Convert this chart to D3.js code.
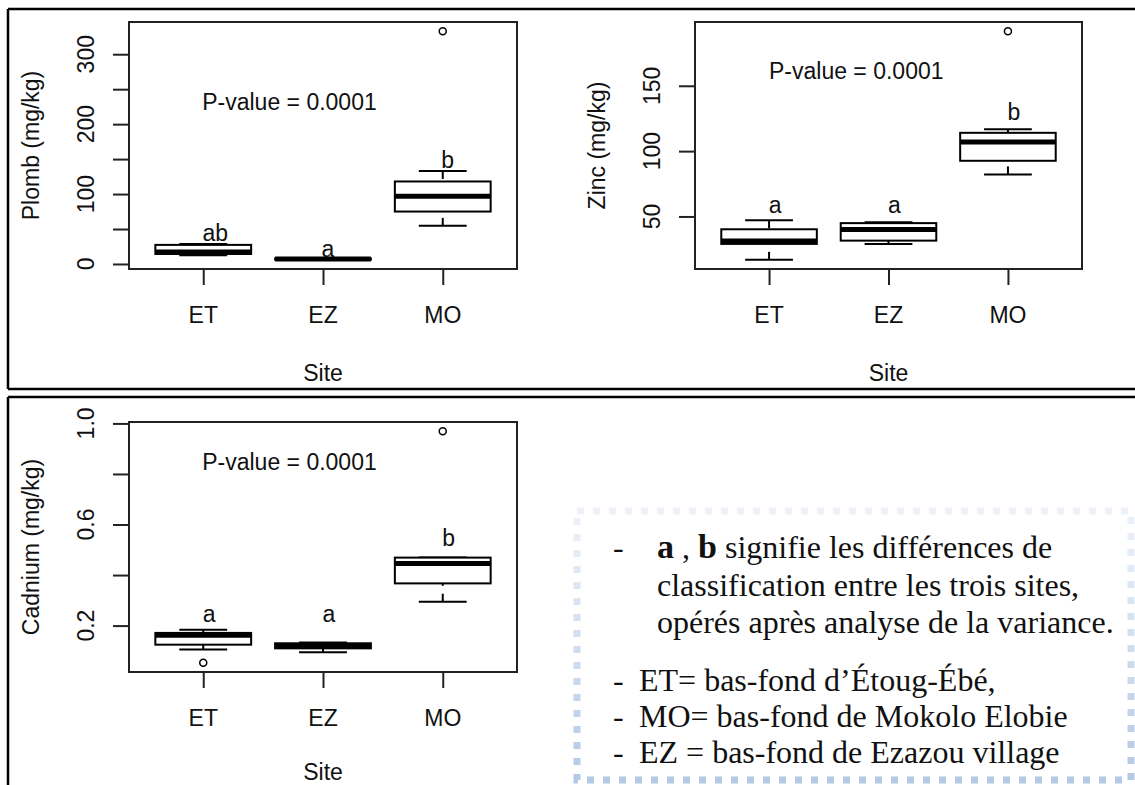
<!DOCTYPE html>
<html>
<head>
<meta charset="utf-8">
<script src="https://cdn.jsdelivr.net/npm/d3@7"></script>
<style>
  body { margin: 0; background: #fff; }
  svg { display: block; }
</style>
</head>
<body>
<svg id="chart" width="1135" height="785"></svg>
<script>
// sites on the x axis
var sites = ["ET", "EZ", "MO"];

// box stats per site: [lower whisker, q1, median, q3, upper whisker]
var plombStats = [[12.5, 14.3, 17.2, 27.3, 28.7], [5.9, 6.3, 7, 7.8, 8.5], [54.5, 75, 97, 118, 133]];
var plombOutliers = [[], [], [333]];
var plombLetters = ["ab", "a", "b"];
var plombLetterX = [1.1, 2.04, 3.04];
var plombLetterY = [45, 21, 149];
var plombTicks = [0, 50, 100, 150, 200, 250, 300];
var plombTickLabels = ["0", "", "100", "", "200", "", "300"];

var zincStats = [[16.8, 29, 31.3, 40.2, 47.1], [29, 31.5, 40, 44.9, 45.6], [82.2, 92.6, 107, 114, 116.8]];
var zincOutliers = [[], [], [191.8]];
var zincLetters = ["a", "a", "b"];
var zincLetterX = [1.05, 2.05, 3.05];
var zincLetterY = [59, 59, 130];
var zincTicks = [50, 100, 150];
var zincTickLabels = ["50", "100", "150"];

var cadStats = [[0.105, 0.1245, 0.1615, 0.171, 0.184], [0.095, 0.11, 0.12, 0.13, 0.133], [0.294, 0.367, 0.446, 0.469, 0.469]];
var cadOutliers = [[0.053], [], [0.969]];
var cadLetters = ["a", "a", "b"];
var cadLetterX = [1.05, 2.05, 3.05];
var cadLetterY = [0.245, 0.245, 0.546];
var cadTicks = [0.2, 0.4, 0.6, 0.8, 1.0];
var cadTickLabels = ["0.2", "", "0.6", "", "1.0"];

var pText = "P-value = 0.0001";

// legend text lines (bottom right)
var noteLines = [
  "classification entre les trois sites,",
  "opérés après analyse de la variance."
];
var siteLines = [
  "ET= bas-fond d\u2019Étoug-Ébé,",
  "MO= bas-fond de Mokolo Elobie",
  "EZ = bas-fond de Ezazou village"
];

var rFont = "'Liberation Sans', Arial, sans-serif";
var FS = 23;

var svg = d3.select("#chart");
svg.append("rect").attr("width", 1135).attr("height", 785).attr("fill", "#fff");

function hText(g, x, y, str, size) {
  return g.append("text")
    .attr("transform", "translate(" + x + "," + y + ")")
    .attr("text-anchor", "middle")
    .attr("dy", "0.35em")
    .style("font-family", rFont)
    .style("font-size", size + "px")
    .attr("fill", "#111")
    .text(str);
}

function vText(g, x, y, str, size) {
  return g.append("text")
    .attr("transform", "translate(" + x + "," + y + ") rotate(-90)")
    .attr("text-anchor", "middle")
    .attr("dy", "0.35em")
    .style("font-family", rFont)
    .style("font-size", size + "px")
    .attr("fill", "#111")
    .text(str);
}

function buildBoxPanel(p) {
  var g = svg.append("g");
  // x like R boxplot: 0.5..n+0.5 plus 4%
  var x = d3.scaleLinear().domain([0.5 - 0.12, 3.5 + 0.12]).range([p.left, p.right]);
  var all = [];
  p.stats.forEach(function(s) { all = all.concat(s); });
  p.outliers.forEach(function(o) { all = all.concat(o); });
  var ext = d3.extent(all), pad = 0.04 * (ext[1] - ext[0]);
  var y = d3.scaleLinear().domain([ext[0] - pad, ext[1] + pad]).range([p.bottom, p.top]);

  var bw = x(1.4) - x(1);

  var box = g.selectAll(".box").data(p.stats).enter().append("g");
  // dashed whiskers, drawn from the whisker end towards the box (like R)
  [[4, 3], [0, 1]].forEach(function(k) {
    box.append("line")
      .attr("x1", function(d, i) { return x(i + 1); }).attr("x2", function(d, i) { return x(i + 1); })
      .attr("y1", function(d) { return y(d[k[0]]); }).attr("y2", function(d) { return y(d[k[1]]); })
      .attr("stroke", "#000").attr("stroke-width", 2).attr("stroke-dasharray", "8 8");
  });
  // staples
  [0, 4].forEach(function(k) {
    box.append("line")
      .attr("x1", function(d, i) { return x(i + 1) - bw / 2; })
      .attr("x2", function(d, i) { return x(i + 1) + bw / 2; })
      .attr("y1", function(d) { return y(d[k]); }).attr("y2", function(d) { return y(d[k]); })
      .attr("stroke", "#000").attr("stroke-width", 2);
  });
  box.append("rect")
    .attr("x", function(d, i) { return x(i + 1) - bw; })
    .attr("width", bw * 2)
    .attr("y", function(d) { return y(d[3]); })
    .attr("height", function(d) { return Math.max(0, y(d[1]) - y(d[3])); })
    .attr("fill", "#fff").attr("stroke", "#000").attr("stroke-width", 2);
  box.append("line")
    .attr("x1", function(d, i) { return x(i + 1) - bw; })
    .attr("x2", function(d, i) { return x(i + 1) + bw; })
    .attr("y1", function(d) { return y(d[2]); }).attr("y2", function(d) { return y(d[2]); })
    .attr("stroke", "#000").attr("stroke-width", 5);

  // outliers
  p.outliers.forEach(function(o, i) {
    g.selectAll(null).data(o).enter().append("circle")
      .attr("cx", x(i + 1)).attr("cy", function(d) { return y(d); })
      .attr("r", 3.5).attr("fill", "none").attr("stroke", "#000").attr("stroke-width", 1.5);
  });

  // plot frame
  g.append("rect")
    .attr("x", p.left).attr("y", p.top)
    .attr("width", p.right - p.left).attr("height", p.bottom - p.top)
    .attr("fill", "none").attr("stroke", "#222").attr("stroke-width", 2);

  // y axis ticks + labels
  g.append("g")
    .attr("transform", "translate(" + p.left + ",0)")
    .call(d3.axisLeft(y).tickValues(p.ticks).tickSize(16).tickFormat(""))
    .call(function(a) {
      a.select(".domain").remove();
      a.selectAll("line").attr("stroke", "#222").attr("stroke-width", 2);
    });
  p.ticks.forEach(function(t, i) {
    if (p.tickLabels[i]) vText(g, p.left - 43, y(t), p.tickLabels[i], FS);
  });

  // x axis ticks + labels
  g.append("g")
    .attr("transform", "translate(0," + p.bottom + ")")
    .call(d3.axisBottom(x).tickValues([1, 2, 3]).tickSize(16).tickFormat(""))
    .call(function(a) {
      a.select(".domain").remove();
      a.selectAll("line").attr("stroke", "#222").attr("stroke-width", 2);
    });
  sites.forEach(function(s, i) { hText(g, x(i + 1), p.bottom + 46, s, FS); });

  // titles
  hText(g, (p.left + p.right) / 2, p.bottom + p.titleGap, "Site", FS);
  vText(g, p.left - 98, (p.top + p.bottom) / 2, p.ytitle, FS);

  // annotations
  p.letters.forEach(function(l, i) { hText(g, x(p.letterX[i]), y(p.letterY[i]), l, FS); });
  hText(g, x(p.px), y(p.py), pText, FS);
}

buildBoxPanel({
  left: 129, right: 517, top: 22, bottom: 269, titleGap: 104,
  stats: plombStats, outliers: plombOutliers,
  letters: plombLetters, letterX: plombLetterX, letterY: plombLetterY,
  ticks: plombTicks, tickLabels: plombTickLabels, ytitle: "Plomb (mg/kg)", px: 1.72, py: 232
});
buildBoxPanel({
  left: 695, right: 1082, top: 22, bottom: 269, titleGap: 104,
  stats: zincStats, outliers: zincOutliers,
  letters: zincLetters, letterX: zincLetterX, letterY: zincLetterY,
  ticks: zincTicks, tickLabels: zincTickLabels, ytitle: "Zinc (mg/kg)", px: 1.73, py: 161
});
buildBoxPanel({
  left: 129, right: 517, top: 422, bottom: 672, titleGap: 100,
  stats: cadStats, outliers: cadOutliers,
  letters: cadLetters, letterX: cadLetterX, letterY: cadLetterY,
  ticks: cadTicks, tickLabels: cadTickLabels, ytitle: "Cadnium (mg/kg)", px: 1.72, py: 0.846
});

// page frame lines
var frame = svg.append("g").attr("stroke", "#000").attr("stroke-width", 2.5);
frame.append("line").attr("x1", 8).attr("x2", 1135).attr("y1", 9).attr("y2", 9);
frame.append("line").attr("x1", 8).attr("x2", 8).attr("y1", 9).attr("y2", 389);
frame.append("line").attr("x1", 8).attr("x2", 1135).attr("y1", 389).attr("y2", 389);
frame.append("line").attr("x1", 8).attr("x2", 1135).attr("y1", 397).attr("y2", 397);
frame.append("line").attr("x1", 8).attr("x2", 8).attr("y1", 397).attr("y2", 785);

// dotted note box
var grad = svg.append("defs").append("linearGradient")
  .attr("id", "dotGrad").attr("x1", 0).attr("y1", 0).attr("x2", 0).attr("y2", 1);
grad.append("stop").attr("offset", "0%").attr("stop-color", "#edf2f9");
grad.append("stop").attr("offset", "100%").attr("stop-color", "#b3c9e6");
svg.append("rect")
  .attr("x", 577).attr("y", 511).attr("width", 554).attr("height", 269)
  .attr("fill", "none").attr("stroke", "url(#dotGrad)")
  .attr("stroke-width", 7).attr("stroke-dasharray", "7 9");

var serif = "'Liberation Serif', 'Times New Roman', serif";
var note = svg.append("g").style("font-family", serif).attr("fill", "#111");
function noteText(x, y, size) {
  return note.append("text")
    .attr("transform", "translate(" + x + "," + y + ")")
    .style("font-size", size + "px");
}
noteText(613, 558, 32).text("-");
var first = noteText(657, 558, 32);
first.append("tspan").style("font-weight", "bold").style("font-size", "34px").text("a");
first.append("tspan").text(" , ");
first.append("tspan").style("font-weight", "bold").style("font-size", "34px").text("b");
first.append("tspan").text(" signifie les différences de");
noteLines.forEach(function(l, i) { noteText(657, 596 + i * 37, 32).text(l); });
siteLines.forEach(function(l, i) {
  noteText(613, 691 + i * 36.2, 32).text("-");
  noteText(639, 691 + i * 36.2, 32).text(l);
});
</script>
</body>
</html>
